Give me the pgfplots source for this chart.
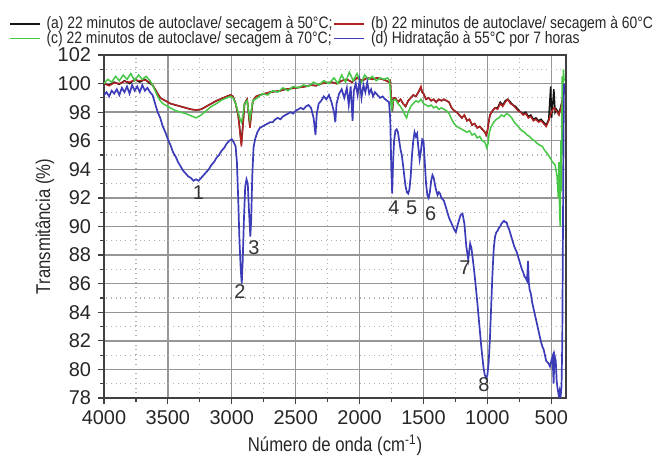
\documentclass[border=0pt]{standalone}
\usepackage{fontspec}
\setmainfont{Liberation Sans}
\newfontfamily\narrowfont{Liberation Sans}[FakeStretch=0.84]
\usepackage{pgfplots}
\pgfplotsset{compat=1.18}

\definecolor{cA}{RGB}{20,20,20}
\definecolor{cB}{RGB}{178,34,34}
\definecolor{cC}{RGB}{70,200,70}
\definecolor{cD}{RGB}{60,60,185}
\definecolor{gridmaj}{RGB}{150,150,150}
\definecolor{gridmin}{RGB}{175,175,175}

\begin{document}
\begin{tikzpicture}
\path[use as bounding box] (-52bp,-30.5bp) rectangle (275.5bp,199bp);
\begin{axis}[
  scale only axis,
  width=231bp, height=171.5bp,
  x dir=reverse,
  xmin=385, xmax=4000,
  ymin=78, ymax=102,
  xtick={500,1000,...,4000},
  ytick={78,80,...,102},
  minor x tick num=1,
  minor y tick num=1,
  tick align=outside,
  xtick pos=left, ytick pos=left,
  major tick length=3bp, minor tick length=2bp,
  grid=both,
  major grid style={gridmaj, line width=0.7bp},
  minor grid style={gridmin, dotted, line width=0.6bp},
  axis line style={black!75, line width=0.7bp},
  tick style={black!75, line width=0.6bp},
  /pgf/number format/assume math mode=true,
  /pgf/number format/1000 sep={},
  tick label style={font=\fontsize{10}{12}\selectfont, black!85},
  xlabel={Número de onda (cm\textsuperscript{-1})},
  ylabel={Transmitância (\%)},
  label style={font=\narrowfont\fontsize{10}{12}\selectfont, black!85},
  xlabel style={at={(axis description cs:0.5,-0.137)}, anchor=center},
  ylabel style={at={(axis description cs:-0.128,0.5)}, anchor=center},
  legend columns=2,
  legend cell align=left,
  legend style={at={(axis description cs:-0.219,1.129)}, anchor=north west,
    draw=none, fill=none, font=\narrowfont\fontsize{8.3}{10}\selectfont,
    text=black!85, row sep=-1.5bp, nodes={inner sep=0.6bp},
    /tikz/every odd column/.append style={column sep=2.5bp},
    /tikz/every even column/.append style={column sep=0bp}},
  legend image code/.code={\draw[#1, line width=0.6bp] (0bp,0bp) -- (15bp,0bp);},
  every axis plot/.append style={line width=0.75bp},
]

% (a) 22 min autoclave, dried at 50 C
\addplot[cA] coordinates {
(4000,100.0)(3960,99.9)(3920,100.1)(3880,99.95)(3840,100.2)(3800,100.0)(3760,100.3)
(3720,100.1)(3680,100.3)(3640,100.0)(3620,99.9)(3600,99.6)(3580,99.3)(3560,99.0)
(3540,98.9)(3520,98.8)(3500,98.7)(3480,98.6)(3440,98.5)(3400,98.4)(3360,98.3)
(3320,98.2)(3280,98.15)(3240,98.2)(3200,98.4)(3160,98.6)(3120,98.8)(3080,98.95)
(3040,99.1)(3010,99.2)(2990,99.1)(2970,98.6)(2950,97.8)(2935,96.6)(2925,95.8)
(2915,96.9)(2900,98.6)(2880,98.9)(2868,97.9)(2858,97.0)(2848,97.9)(2835,98.8)
(2810,99.1)(2780,99.2)(2740,99.3)(2700,99.4)(2660,99.45)(2620,99.5)(2580,99.6)
(2540,99.65)(2500,99.7)(2460,99.75)(2420,99.8)(2380,99.9)(2340,99.85)(2300,100.0)
(2260,100.05)(2220,100.1)(2180,100.0)(2140,100.2)(2100,100.3)(2060,100.1)(2020,100.4)
(1980,100.2)(1940,100.4)(1900,100.3)(1860,100.4)(1820,100.3)(1790,100.2)(1770,100.1)
(1760,100.1)(1750,98.6)(1742,98.3)(1735,99.0)(1720,99.0)(1700,98.7)(1680,98.9)
(1660,98.6)(1640,98.4)(1620,98.8)(1600,99.0)(1580,99.2)(1560,99.1)(1540,99.4)
(1520,99.7)(1510,99.4)(1500,99.3)(1480,98.9)(1460,99.0)(1440,98.8)(1420,98.9)
(1400,98.7)(1380,98.9)(1360,98.8)(1340,98.9)(1320,98.8)(1300,98.7)(1280,98.3)
(1260,98.1)(1240,98.0)(1220,97.8)(1200,97.6)(1180,97.8)(1160,97.4)(1140,97.5)
(1120,97.1)(1100,97.2)(1080,96.9)(1060,97.0)(1040,96.8)(1020,96.6)(1010,96.4)
(1000,96.7)(990,97.3)(980,97.8)(960,98.1)(940,98.3)(920,98.3)(900,98.7)(880,98.5)
(860,98.8)(840,98.9)(820,98.7)(800,98.5)(780,98.4)(760,98.2)(740,98.0)(720,97.9)
(700,98.0)(680,97.7)(660,97.8)(640,97.5)(620,97.6)(600,97.4)(580,97.5)(560,97.3)
(540,97.1)(520,97.5)(505,99.8)(498,97.6)(490,98.4)(480,99.6)(470,98.0)(460,98.2)
(440,97.9)(420,98.6)(400,99.5)
};
\addlegendentry{(a) 22 minutos de autoclave/ secagem à 50°C;}

% (b) 22 min autoclave, dried at 60 C
\addplot[cB] coordinates {
(4000,100.0)(3960,99.85)(3920,100.05)(3880,100.0)(3840,100.15)(3800,100.1)(3760,100.25)
(3720,100.2)(3680,100.25)(3640,100.1)(3620,99.9)(3600,99.6)(3580,99.3)(3560,99.0)
(3540,98.9)(3520,98.8)(3500,98.7)(3480,98.6)(3440,98.5)(3400,98.4)(3360,98.3)
(3320,98.2)(3280,98.15)(3240,98.2)(3200,98.4)(3160,98.6)(3120,98.8)(3080,98.95)
(3040,99.1)(3010,99.2)(2990,99.1)(2970,98.6)(2950,97.8)(2935,96.5)(2925,95.6)
(2915,96.8)(2900,98.6)(2880,98.9)(2868,97.8)(2858,96.9)(2848,97.8)(2835,98.8)
(2810,99.1)(2780,99.2)(2740,99.3)(2700,99.4)(2660,99.45)(2620,99.5)(2580,99.6)
(2540,99.65)(2500,99.7)(2460,99.75)(2420,99.8)(2380,99.9)(2340,99.85)(2300,100.0)
(2260,100.05)(2220,100.1)(2180,100.0)(2140,100.2)(2100,100.3)(2060,100.1)(2020,100.4)
(1980,100.2)(1940,100.4)(1900,100.3)(1860,100.4)(1820,100.3)(1790,100.2)(1770,100.1)
(1760,100.2)(1750,98.5)(1742,98.3)(1735,99.0)(1720,99.0)(1700,98.7)(1680,98.9)
(1660,98.6)(1640,98.4)(1620,98.8)(1600,99.0)(1580,99.2)(1560,99.1)(1540,99.4)
(1520,99.8)(1510,99.4)(1500,99.3)(1480,98.9)(1460,99.0)(1440,98.8)(1420,98.9)
(1400,98.7)(1380,98.9)(1360,98.8)(1340,98.9)(1320,98.8)(1300,98.7)(1280,98.3)
(1260,98.1)(1240,98.0)(1220,97.8)(1200,97.6)(1180,97.8)(1160,97.4)(1140,97.5)
(1120,97.1)(1100,97.2)(1080,96.9)(1060,97.0)(1040,96.8)(1020,96.6)(1010,96.4)
(1000,96.7)(990,97.3)(980,97.8)(960,98.1)(940,98.3)(920,98.2)(900,98.6)(880,98.4)
(860,98.7)(840,98.9)(820,98.6)(800,98.5)(780,98.3)(760,98.1)(740,98.0)(720,97.8)
(700,97.9)(680,97.6)(660,97.7)(640,97.4)(620,97.5)(600,97.3)(580,97.4)(560,97.2)
(540,97.0)(520,97.4)(500,98.0)(480,98.3)(460,98.1)(440,97.8)(420,98.5)(400,99.5)
};
\addlegendentry{(b) 22 minutos de autoclave/ secagem à 60°C}

% (c) 22 min autoclave, dried at 70 C
\addplot[cC] coordinates {
(4000,100.0)(3970,100.3)(3940,100.1)(3910,100.5)(3880,100.2)(3850,100.6)(3820,100.3)
(3790,100.7)(3760,100.2)(3730,100.6)(3700,100.3)(3670,100.5)(3640,100.2)(3620,99.9)
(3600,99.5)(3580,99.1)(3560,98.8)(3540,98.6)(3520,98.5)(3500,98.4)(3480,98.3)
(3440,98.1)(3400,98.0)(3360,97.9)(3320,97.75)(3280,97.6)(3240,97.8)(3200,98.1)
(3160,98.4)(3120,98.6)(3080,98.85)(3040,99.0)(3010,99.1)(2990,99.0)(2970,98.6)
(2950,98.0)(2935,97.5)(2925,97.3)(2915,97.7)(2900,98.6)(2880,98.8)(2868,98.0)
(2858,97.5)(2848,98.1)(2835,98.8)(2800,99.0)(2760,99.3)(2720,99.2)(2680,99.5)
(2640,99.4)(2600,99.7)(2560,99.5)(2520,99.8)(2480,99.7)(2440,99.9)(2400,99.8)
(2360,100.1)(2320,99.9)(2280,100.2)(2240,100.0)(2200,100.4)(2170,100.0)(2140,100.6)
(2110,100.1)(2080,100.8)(2050,100.2)(2020,100.7)(1990,100.0)(1960,100.6)(1930,100.3)
(1900,100.5)(1870,100.2)(1840,100.4)(1810,100.3)(1780,100.4)(1765,100.2)(1750,98.1)
(1740,98.8)(1720,98.9)(1700,98.6)(1680,98.4)(1660,98.1)(1645,97.8)(1632,97.6)
(1620,98.0)(1600,98.4)(1580,98.6)(1560,98.8)(1540,98.7)(1520,98.9)(1500,98.6)
(1480,98.5)(1460,98.4)(1440,98.5)(1420,98.3)(1400,98.4)(1380,98.2)(1360,98.3)
(1340,98.2)(1320,98.1)(1300,97.9)(1280,97.5)(1260,97.2)(1240,97.0)(1220,96.9)
(1200,96.8)(1180,96.7)(1160,96.6)(1140,96.7)(1120,96.4)(1100,96.5)(1080,96.2)
(1060,96.3)(1040,96.0)(1020,95.9)(1005,95.5)(995,95.8)(985,96.6)(970,97.0)
(950,97.3)(930,97.5)(910,97.6)(890,97.8)(870,97.7)(850,97.9)(830,97.8)(810,97.6)
(790,97.3)(770,97.1)(750,96.9)(730,96.7)(710,96.6)(690,96.4)(670,96.3)(650,96.1)
(630,96.0)(610,95.8)(590,95.7)(570,95.6)(550,95.3)(530,95.1)(510,94.8)(490,94.5)
(470,94.3)(455,93.5)(445,92.0)(440,94.5)(435,91.0)(430,90.0)(425,96.0)(420,92.5)
(415,100.5)(410,95.0)(405,101.0)(400,100.2)
};
\addlegendentry{(c) 22 minutos de autoclave/ secagem à 70°C;}

% (d) hydration at 55 C for 7 h
\addplot[cD, line width=0.85bp] coordinates {
(4000,99.2)(3980,99.4)(3960,99.1)(3940,99.5)(3920,99.3)(3900,99.6)(3880,99.2)
(3860,99.7)(3840,99.4)(3820,99.8)(3800,99.3)(3780,99.9)(3760,99.5)(3740,99.8)
(3720,99.4)(3700,99.9)(3680,99.5)(3660,99.7)(3640,99.4)(3620,99.2)(3600,98.6)
(3580,98.0)(3560,97.6)(3540,97.0)(3520,96.6)(3500,96.1)(3480,95.7)(3460,95.2)
(3440,94.9)(3420,94.5)(3400,94.2)(3380,93.9)(3360,93.7)(3340,93.5)(3320,93.4)
(3300,93.2)(3280,93.3)(3260,93.2)(3240,93.4)(3220,93.6)(3200,93.8)(3180,94.0)
(3160,94.3)(3140,94.5)(3120,94.8)(3100,95.0)(3080,95.3)(3060,95.5)(3040,95.8)
(3020,96.0)(3000,96.1)(2985,95.9)(2970,95.6)(2960,94.5)(2950,92.0)(2940,89.0)
(2930,87.0)(2922,86.0)(2915,87.5)(2905,90.5)(2895,92.8)(2885,93.3)(2875,93.0)
(2865,91.0)(2855,89.3)(2848,90.5)(2840,93.5)(2830,95.5)(2818,96.1)(2800,96.6)
(2780,96.9)(2760,97.0)(2740,97.1)(2720,97.2)(2700,97.3)(2680,97.3)(2660,97.5)
(2640,97.6)(2620,97.5)(2600,97.7)(2580,97.8)(2560,97.9)(2540,98.0)(2520,97.9)
(2500,98.1)(2480,98.2)(2460,98.3)(2440,98.2)(2420,98.4)(2400,98.5)(2380,98.3)
(2360,97.6)(2345,96.4)(2335,97.9)(2320,98.6)(2300,98.8)(2280,99.1)(2260,98.9)
(2240,99.2)(2220,98.7)(2200,98.0)(2190,97.3)(2180,98.6)(2160,99.3)(2140,99.6)
(2120,99.0)(2100,99.7)(2085,98.5)(2070,99.8)(2055,97.4)(2045,99.5)(2030,100.0)
(2015,99.2)(2000,100.2)(1985,99.0)(1970,99.9)(1955,99.4)(1940,100.1)(1925,99.3)
(1910,99.6)(1895,99.1)(1880,99.4)(1860,99.2)(1840,99.0)(1820,99.1)(1800,98.9)
(1785,98.8)(1770,98.7)(1760,97.5)(1752,94.0)(1745,92.3)(1738,94.5)(1730,96.0)
(1720,96.7)(1710,96.8)(1700,96.6)(1690,96.0)(1680,95.4)(1670,95.0)(1660,94.3)
(1650,93.5)(1640,92.8)(1630,92.4)(1620,92.3)(1610,92.6)(1600,93.5)(1590,95.0)
(1580,96.0)(1570,96.6)(1560,96.3)(1550,96.5)(1540,95.5)(1530,94.7)(1520,95.3)
(1510,96.1)(1500,96.0)(1490,94.5)(1480,93.0)(1470,92.2)(1460,92.0)(1450,92.4)
(1440,93.2)(1430,93.6)(1420,93.4)(1410,92.9)(1400,92.5)(1390,92.2)(1380,92.4)
(1370,92.3)(1360,92.0)(1340,91.8)(1320,91.2)(1300,90.6)(1280,90.2)(1260,89.8)
(1247,89.6)(1230,90.2)(1210,90.8)(1195,90.9)(1180,90.2)(1165,88.6)(1150,87.7)
(1135,88.8)(1125,88.5)(1110,87.4)(1100,86.6)(1090,85.7)(1080,84.8)(1070,83.8)
(1060,82.8)(1050,81.8)(1040,80.9)(1030,80.1)(1020,79.6)(1010,79.4)(1000,79.6)
(990,80.5)(980,82.2)(970,84.5)(960,86.8)(950,88.5)(940,89.3)(930,89.6)(920,89.7)
(910,89.9)(900,90.0)(890,90.2)(880,90.3)(870,90.4)(860,90.3)(850,90.3)(840,90.0)
(830,89.8)(820,89.5)(810,89.2)(800,88.9)(790,88.6)(780,88.4)(770,88.2)(760,87.9)
(750,87.6)(740,87.3)(730,87.0)(720,86.8)(710,86.5)(700,86.4)(690,86.2)(682,87.6)
(676,86.1)(670,85.6)(660,85.3)(650,84.7)(640,84.3)(630,83.9)(620,83.5)(610,83.1)
(600,82.7)(590,82.3)(580,81.9)(570,81.6)(560,81.4)(550,81.0)(540,80.6)(530,80.5)
(520,80.4)(510,80.2)(500,80.6)(490,80.9)(482,79.0)(475,81.0)(465,80.6)(458,79.2)
(450,78.6)(442,78.2)(435,78.5)(428,78.0)(420,78.8)(414,82.0)(410,88.0)(406,94.0)
(402,99.0)(400,100.0)
};
\addlegendentry{(d) Hidratação à 55°C por 7 horas}

% band numbers
\begin{scope}[every node/.style={font=\fontsize{10}{12}\selectfont, text=black!80, inner sep=0pt}]
\node at (axis cs:3262,92.4) {1};
\node at (axis cs:2936,85.45) {2};
\node at (axis cs:2826,88.5) {3};
\node at (axis cs:1731,91.3) {4};
\node at (axis cs:1593,91.3) {5};
\node at (axis cs:1444,90.9) {6};
\node at (axis cs:1176,87.1) {7};
\node at (axis cs:1028,78.9) {8};
\end{scope}
\end{axis}
\end{tikzpicture}
\end{document}
